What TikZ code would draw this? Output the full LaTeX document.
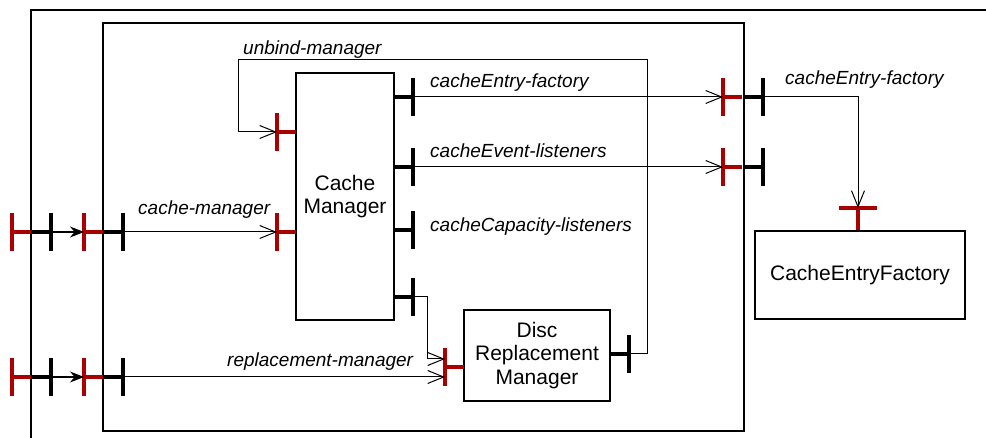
\documentclass[tikz,border=0pt]{standalone}
\usepackage{fontspec}
\setmainfont{Liberation Sans}
\usetikzlibrary{arrows.meta}
\definecolor{portred}{RGB}{170,0,0}
\tikzset{
  frame/.style={line width=2.5pt},
  box/.style={draw, line width=2.5pt, inner sep=0pt, align=center, font=\fontsize{21}{23.5}\selectfont},
  rport/.style={draw=portred, line width=3.5pt},
  bport/.style={draw=black, line width=3.5pt},
  conn/.style={line width=1pt, -{Straight Barb[length=16pt,width=13pt,line width=1pt]}},
  feed/.style={line width=1.5pt, -{Stealth[length=14pt,width=11pt]}},
  lbl/.style={font=\fontsize{19}{21}\selectfont\itshape, anchor=base west, inner sep=0pt},
}
\begin{document}
\begin{tikzpicture}[x=1pt, y=-1pt]
   \useasboundingbox (0,0) rectangle (986,438);
   \draw[frame] (986,10) -- (31,10) -- (31,438);
   \draw[frame] (103,23) rectangle (744,431);
   % components
   \node[box, minimum width=98, minimum height=247] (cm) at (345,196.5) {Cache\\Manager};
   \node[box, minimum width=146, minimum height=91] (drm) at (537,355.5) {Disc\\Replacement\\Manager};
   \node[box, minimum width=210, minimum height=88] (cef) at (860,275) {CacheEntryFactory};
   % provided ports
   \foreach \n/\x/\y in {inA/12/232, inB/84/232, inC/12/377, inD/84/377, cmU/277/132, cmC/277/232, drR/445/367, exF/723/97, exL/723/167}{
      \draw[rport] (\x,\y-19) -- (\x,\y+19) (\x,\y) -- (\x+19,\y);
      \coordinate (\n) at (\x,\y);
   }
   % required ports
   \foreach \n/\x/\y in {oA/51/232, oB/123/232, oC/51/377, oD/123/377, cmF/413/97, cmL/413/167, cmK/413/230, cmD/413/297, drU/629/354, xF/763/97, xL/763/167}{
      \draw[bport] (\x,\y-19) -- (\x,\y+19) (\x-19,\y) -- (\x,\y);
      \coordinate (\n) at (\x,\y);
   }
   \coordinate (cefP) at (858,208);
   \draw[rport] (cefP) ++(-19,0) -- ++(38,0) (cefP) -- (cefP |- cef.north);
   % connectors
   \draw[feed] (oA) -- (inB);
   \draw[feed] (oC) -- (inD);
   \draw[conn] (oB) -- (cmC);
   \draw[conn] (oD) -- (oD -| drR);
   \draw[conn] (cmD) -- ++(14,0) |- ([yshift=8pt]drR);
   \draw[conn] (drU) -| (647,60) -- (238,60) |- (cmU);
   \draw[conn] (cmF) -- (exF);
   \draw[conn] (cmL) -- (exL);
   \draw[conn] (xF) -| (cefP);
   % labels
   \node[lbl] (lU) at (243,55) {unbind-manager};
   \node[lbl] (lF) at (430,88) {cacheEntry-factory};
   \node[lbl] (lL) at (430,158) {cacheEvent-listeners};
   \node[lbl] (lK) at (430,232) {cacheCapacity-listeners};
   \node[lbl] (lX) at (785,85) {cacheEntry-factory};
   \node[lbl] (lC) at (138,215) {cache-manager};
   \node[lbl] (lR) at (227,367) {replacement-manager};
\end{tikzpicture}
\end{document}
